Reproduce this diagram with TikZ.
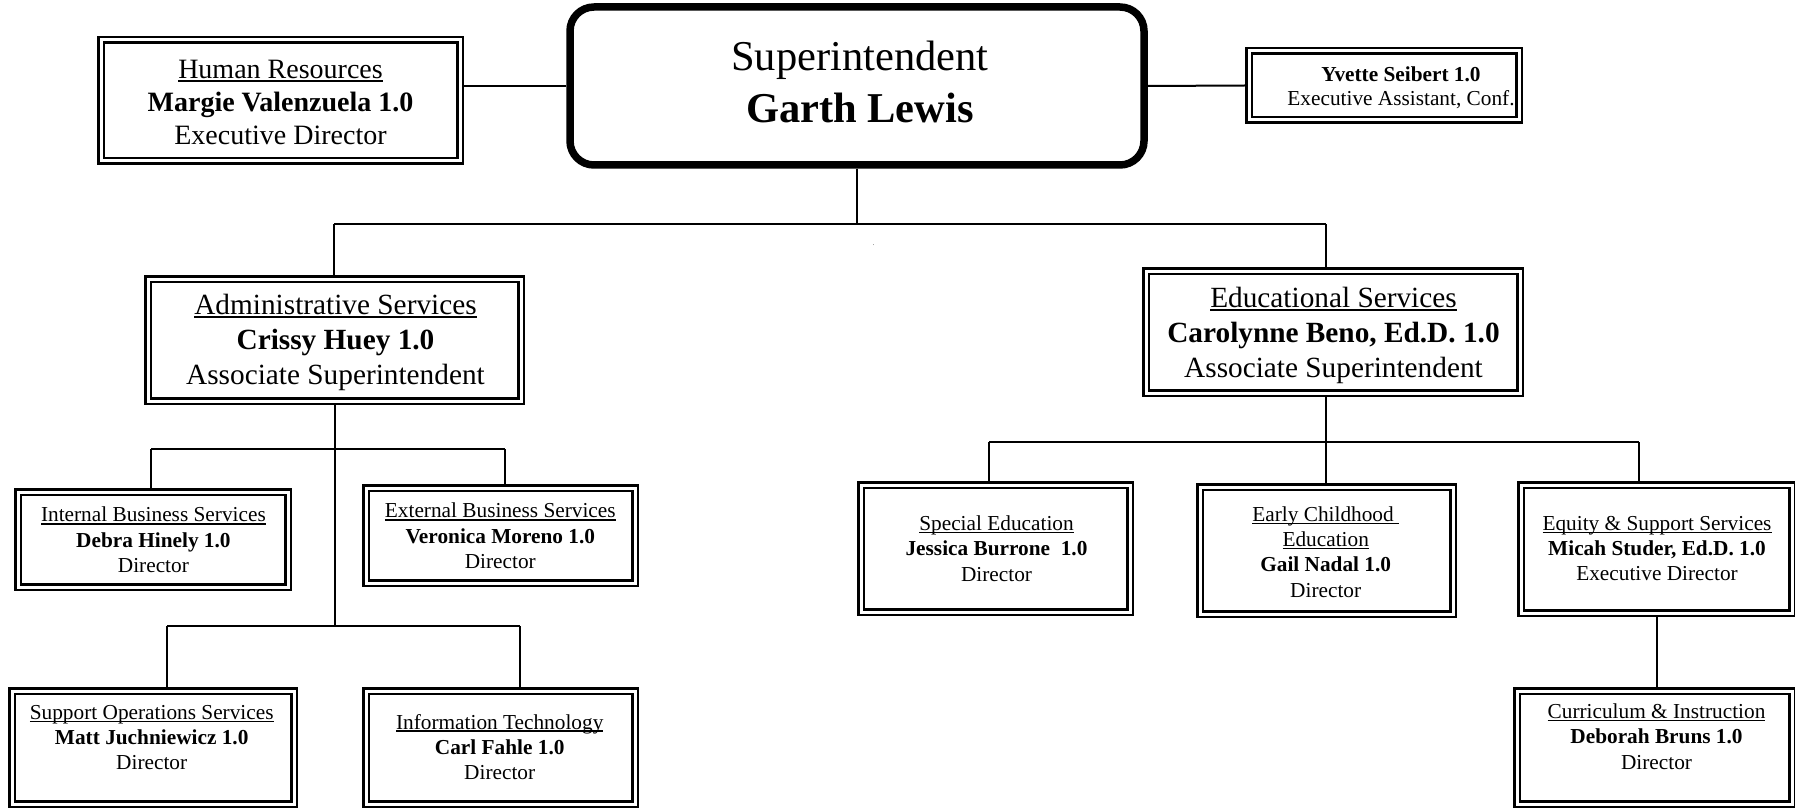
\documentclass[tikz,border=0pt]{standalone}
\usepackage{fontspec}
\setmainfont{Liberation Serif}

% underlined unit title, rule laid under the box without changing its size
\newcommand\ulbox[1]{\setbox0=\hbox{#1}\rlap{\rule[-0.12em]{\wd0}{0.055em}}\box0}
\newcommand\fsTop{\fontsize{42.5}{52}\selectfont}
\newcommand\fsHR{\fontsize{28}{33}\selectfont}
\newcommand\fsAssoc{\fontsize{29.3}{35}\selectfont}
\newcommand\fsAsst{\fontsize{21.3}{24}\selectfont}
\newcommand\fsDept{\fontsize{21.3}{25.3}\selectfont}

\tikzset{
  orgbox/.style={draw, double, line width=2.4pt, double distance=3pt,
    inner sep=0pt, outer sep=4pt},
  topbox/.style={draw, line width=7.5pt, rounded corners=24pt,
    inner sep=0pt, outer sep=3.75pt},
  link/.style={line width=2pt},
  txt/.style={align=center, inner sep=0pt}
}

\begin{document}
\begin{tikzpicture}[x=1pt, y=-1pt]
\useasboundingbox (0,0) rectangle (1795,810);

% ---- frames (size = outer size minus the border) ----
\node[topbox, minimum width=574pt, minimum height=158pt] (sup) at (857,86) {};
\node[orgbox, minimum width=359pt, minimum height=121pt] (hr)   at (280.5,100.5) {};
\node[orgbox, minimum width=270pt, minimum height=69pt]  (ea)   at (1384,85.5) {};
\node[orgbox, minimum width=373pt, minimum height=122pt] (adm)  at (334.5,340) {};
\node[orgbox, minimum width=374pt, minimum height=122pt] (edu)  at (1333,332) {};
\node[orgbox, minimum width=270pt, minimum height=95pt]  (ibs)  at (153,539.5) {};
\node[orgbox, minimum width=269pt, minimum height=95pt]  (ebs)  at (500.5,535.5) {};
\node[orgbox, minimum width=282pt, minimum height=113pt] (sos)  at (153,747.5) {};
\node[orgbox, minimum width=269pt, minimum height=113pt] (it)   at (500.5,747.5) {};
\node[orgbox, minimum width=269pt, minimum height=127pt] (sped) at (995.5,548.5) {};
\node[orgbox, minimum width=253pt, minimum height=127pt] (ece)  at (1326.5,550.5) {};
\node[orgbox, minimum width=271pt, minimum height=128pt] (ess)  at (1656.5,549) {};
\node[orgbox, minimum width=275pt, minimum height=113pt] (ci)   at (1654.5,747.5) {};

% ---- texts ----
\node[txt, font=\fsTop] (supT) at (860,81.5)
  {Superintendent\\ \textbf{Garth Lewis}};
\node[txt, font=\fsHR] (hrT) at (280.5,102.5)
  {\ulbox{Human Resources}\\ \textbf{Margie Valenzuela 1.0}\\ Executive Director};
\node[txt, font=\fsAsst] (eaT) at (1401,87.5)
  {\textbf{Yvette Seibert 1.0}\\ Executive Assistant, Conf.};
\node[txt, font=\fsAssoc] (admT) at (335.5,342)
  {\ulbox{Administrative Services}\\ \textbf{Crissy Huey 1.0}\\ Associate Superintendent};
\node[txt, font=\fsAssoc] (eduT) at (1333.5,335)
  {\ulbox{Educational Services}\\ \textbf{Carolynne Beno, Ed.D. 1.0}\\ Associate Superintendent};
\node[txt, font=\fsDept] (ibsT) at (153.4,540)
  {\ulbox{Internal Business Services}\\ \textbf{Debra Hinely 1.0}\\ Director};
\node[txt, font=\fsDept] (ebsT) at (500.3,536)
  {\ulbox{External Business Services}\\ \textbf{Veronica Moreno 1.0}\\ Director};
\node[txt, font=\fsDept] (sosT) at (151.7,737.5)
  {\ulbox{Support Operations Services}\\ \textbf{Matt Juchniewicz 1.0}\\ Director};
\node[txt, font=\fsDept] (itT) at (499.7,747)
  {\ulbox{Information Technology}\\ \textbf{Carl Fahle 1.0}\\ Director};
\node[txt, font=\fsDept] (spedT) at (996.5,548.5)
  {\ulbox{Special Education}\\ \textbf{Jessica Burrone~~1.0}\\ Director};
\node[txt, font=\fsDept] (eceT) at (1325.7,552)
  {\ulbox{Early Childhood\ }\\ \ulbox{Education}\\ \textbf{Gail Nadal 1.0}\\ Director};
\node[txt, font=\fsDept] (essT) at (1657,548.5)
  {\ulbox{Equity \& Support Services}\\ \textbf{Micah Studer, Ed.D. 1.0}\\ Executive Director};
\node[txt, font=\fsDept] (ciT) at (1656.5,736.5)
  {\ulbox{Curriculum \& Instruction}\\ \textbf{Deborah Bruns 1.0}\\ Director};

\node[inner sep=0pt, font=\fontsize{6}{6}\selectfont] (dotmark) at (873.5,245) {.};

% ---- junction points ----
\coordinate (tL) at (334,224);
\coordinate (tR) at (1326,224);
\coordinate (a1L) at (151,449);
\coordinate (a1R) at (505,449);
\coordinate (a2L) at (167,626);
\coordinate (a2R) at (520,626);
\coordinate (e1L) at (989,442);
\coordinate (eV)  at (1326,442);
\coordinate (e1R) at (1639,442);

% ---- connectors ----
\draw[link] (hr.east |- sup.west) -- (sup.west);
\draw[link] (sup.east) -- (ea.west);
\draw[link] (sup.south) -- (sup.south |- tL);
\draw[link] (tL) -- (tR);
\draw[link] (tL) -- (tL |- adm.north);
\draw[link] (tR) -- (tR |- edu.north);

\draw[link] (adm.south) -- (adm.south |- a2L);
\draw[link] (a1L) -- (a1R);
\draw[link] (a1L) -- (a1L |- ibs.north);
\draw[link] (a1R) -- (a1R |- ebs.north);
\draw[link] (a2L) -- (a2R);
\draw[link] (a2L) -- (a2L |- sos.north);
\draw[link] (a2R) -- (a2R |- it.north);

\draw[link] (eV |- edu.south) -- (eV);
\draw[link] (e1L) -- (e1R);
\draw[link] (e1L) -- (e1L |- sped.north);
\draw[link] (eV) -- (eV |- ece.north);
\draw[link] (e1R) -- (e1R |- ess.north);
\draw[link] (ess.south) -- (ess.south |- ci.north);
\end{tikzpicture}
\end{document}
